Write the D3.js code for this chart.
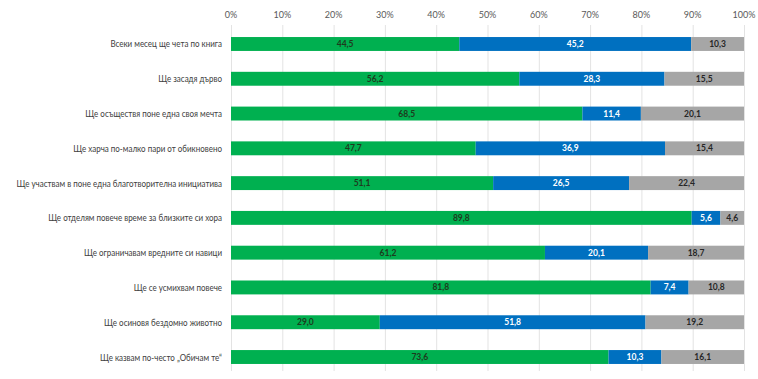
<!DOCTYPE html>
<meta charset="utf-8">
<style>
  body { margin: 0; background: #fff; }
  text { font-family: Lato, "Open Sans", sans-serif; }
</style>
<svg width="758" height="379"></svg>
<script src="https://d3js.org/d3.v7.min.js"></script>
<script>
var categories = [
  "Всеки месец ще чета по книга",
  "Ще засадя дърво",
  "Ще осъществя поне една своя мечта",
  "Ще харча по-малко пари от обикновено",
  "Ще участвам в  поне една благотворителна инициатива",
  "Ще отделям повече време за близките си хора",
  "Ще ограничавам вредните си навици",
  "Ще се усмихвам повече",
  "Ще осиновя бездомно животно",
  "Ще казвам по-често „Обичам те“"
]
var greenValues = [44.5, 56.2, 68.5, 47.7, 51.1, 89.8, 61.2, 81.8, 29.0, 73.6]
var blueValues  = [45.2, 28.3, 11.4, 36.9, 26.5, 5.6, 20.1, 7.4, 51.8, 10.3]
var grayValues  = [10.3, 15.5, 20.1, 15.4, 22.4, 4.6, 18.7, 10.8, 19.2, 16.1]
var tickValues  = [0, 10, 20, 30, 40, 50, 60, 70, 80, 90, 100]

var seriesKeys = ['green', 'blue', 'gray']
var colors = { green: '#00b050', blue: '#0070c0', gray: '#a6a6a6' }
var labelColors = { green: '#1e3b1e', blue: '#ffffff', gray: '#262626' }

var rows = categories.map(function (c, i) {
  return { cat: c, green: greenValues[i], blue: blueValues[i], gray: grayValues[i] }
})

var svg = d3.select('svg')

var x = d3.scaleLinear().domain([0, 100]).range([231, 744])
var y = d3.scaleBand().domain(categories).range([26.6, 374.4]).paddingInner(0.6).paddingOuter(0.3)

// gridlines
svg.append('g')
  .selectAll('line')
  .data(tickValues)
  .enter().append('line')
    .attr('x1', function (d) { return x(d) + 0.5 })
    .attr('x2', function (d) { return x(d) + 0.5 })
    .attr('y1', 25)
    .attr('y2', 371)
    .attr('stroke', '#e3e3e3')
    .attr('stroke-width', 1)

// top axis labels
svg.append('g')
  .selectAll('text')
  .data(tickValues)
  .enter().append('text')
    .attr('x', function (d) { return x(d) })
    .attr('y', 18)
    .attr('text-anchor', 'middle')
    .attr('font-size', 9)
    .attr('fill', '#595959')
    .text(function (d) { return d + '%' })

var stacked = d3.stack().keys(seriesKeys)(rows)

var layers = svg.append('g')
  .selectAll('g')
  .data(stacked)
  .enter().append('g')
    .attr('fill', function (s) { return colors[s.key] })

layers.selectAll('rect')
  .data(function (s) { return s })
  .enter().append('rect')
    .attr('x', function (d) { return x(d[0]) })
    .attr('width', function (d) { return x(d[1]) - x(d[0]) })
    .attr('y', function (d) { return y(d.data.cat) })
    .attr('height', y.bandwidth())

var fmt = d3.format('.1f')
stacked.forEach(function (s) {
  svg.append('g')
    .selectAll('text')
    .data(s)
    .enter().append('text')
      .attr('x', function (d) { return (x(d[0]) + x(d[1])) / 2 })
      .attr('y', function (d) { return y(d.data.cat) + y.bandwidth() / 2 + 3 })
      .attr('text-anchor', 'middle')
      .attr('font-size', 8.5)
      .attr('font-weight', 'bold')
      .attr('fill', labelColors[s.key])
      .text(function (d) { return fmt(d[1] - d[0]).replace('.', ',') })
})

// category labels, squeezed a bit to imitate a narrow font
var catLabels = svg.append('g')
  .selectAll('text')
  .data(categories)
  .enter().append('text')
    .attr('x', 222)
    .attr('y', function (d) { return y(d) + y.bandwidth() / 2 + 3.5 })
    .attr('text-anchor', 'end')
    .attr('font-size', 10)
    .attr('fill', '#404040')
    .text(function (d) { return d })

catLabels.each(function () {
  var w = Math.min(this.getComputedTextLength() * 0.8, 220)
  d3.select(this).attr('textLength', w).attr('lengthAdjust', 'spacingAndGlyphs')
})
</script>
